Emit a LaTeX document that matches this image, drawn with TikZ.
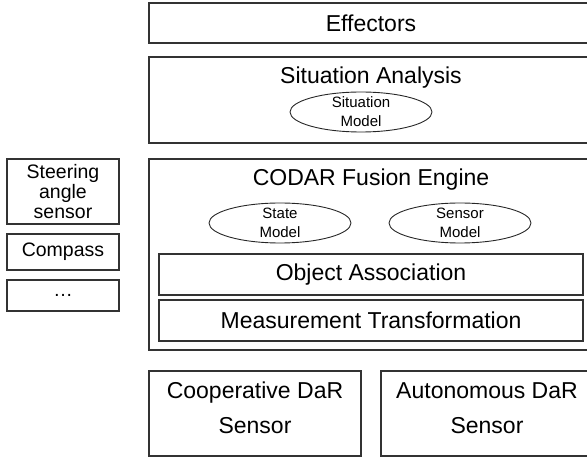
\documentclass[tikz,border=0pt]{standalone}
\usepackage{fontspec}
\setmainfont{Liberation Sans}
\usetikzlibrary{shapes.geometric}
\begin{document}
\begin{tikzpicture}[x=1pt,y=-1pt,
    part/.style={draw=black!80,line width=1.2pt,rectangle,inner sep=0pt,align=center,
      font=\fontsize{23}{35}\selectfont},
    side/.style={draw=black!80,line width=1.2pt,rectangle,inner sep=0pt,minimum width=112pt,
      align=center,font=\fontsize{19.5}{20}\selectfont},
    model/.style={draw=black!85,line width=0.9pt,ellipse,minimum width=142pt,minimum height=40pt,inner sep=0pt},
    modeltext/.style={align=center,font=\fontsize{15}{19}\selectfont},
    title/.style={font=\fontsize{23}{28}\selectfont}]
  \useasboundingbox (0,0) rectangle (587,457);
  % layers
  \node[part,minimum width=444pt,minimum height=40pt] (eff) at (371,23) {Effectors};
  \node[part,minimum width=444pt,minimum height=86pt] (sa) at (371,100) {};
  \node[title] (satitle) at (371,78) {Situation Analysis};
  \node[model] (sitmodel) at (361,112) {};
  \node[modeltext] (sitmodeltext) at (sitmodel) {Situation\\Model};
  \node[part,minimum width=444pt,minimum height=191pt] (codar) at (371,254.5) {};
  \node[title] (codartitle) at (371,180) {CODAR Fusion Engine};
  \node[model] (statemodel) at (280,223) {};
  \node[modeltext] (statemodeltext) at (statemodel) {State\\Model};
  \node[model] (sensormodel) at (460,223) {};
  \node[modeltext] (sensormodeltext) at (sensormodel) {Sensor\\Model};
  \node[part,minimum width=424pt,minimum height=41pt] (assoc) at (371,274.5) {Object Association};
  \node[part,minimum width=424pt,minimum height=41pt] (transf) at (371,320.5) {Measurement Transformation};
  % sensors
  \node[part,minimum width=212pt,minimum height=85pt,text depth=11pt] (coop) at (255,413.5) {Cooperative DaR\\Sensor};
  \node[part,minimum width=212pt,minimum height=85pt,text depth=11pt] (auto) at (487,413.5) {Autonomous DaR\\Sensor};
  % vehicle sensors
  \node[side,minimum height=65pt] (steer) at (63,191.5) {Steering\\angle\\sensor};
  \node[side,minimum height=36pt] (compass) at (63,252) {Compass};
  \node[side,minimum height=31pt] (more) at (63,295.5) {…};
\end{tikzpicture}
\end{document}
